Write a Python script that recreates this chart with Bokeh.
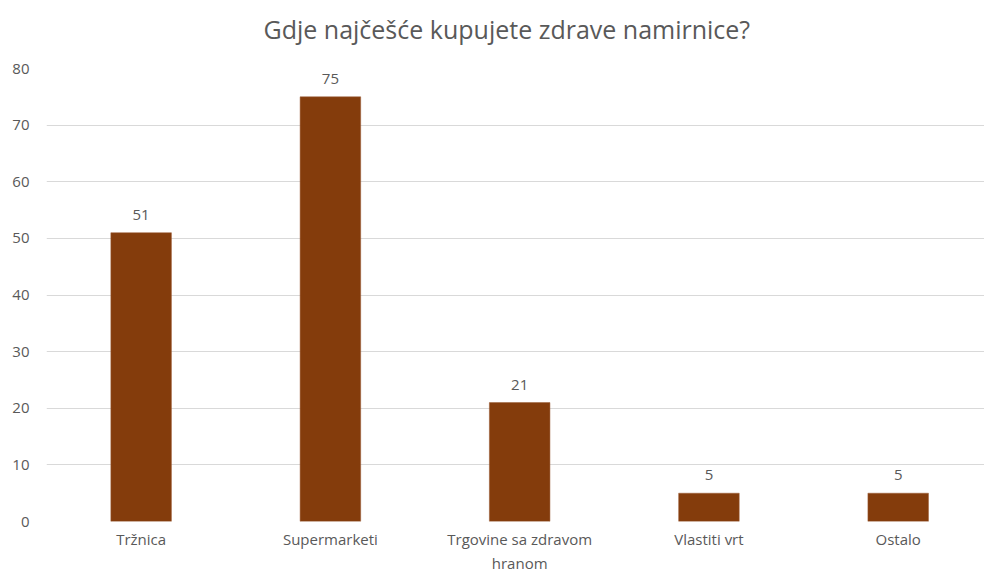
from bokeh.plotting import figure
from bokeh.models import Range1d, FixedTicker, ColumnDataSource, LabelSet, Title
from bokeh.core.properties import value
from bokeh.embed import file_html
from bokeh.resources import INLINE

categories = ["Tržnica", "Supermarketi", "Trgovine sa zdravom\nhranom", "Vlastiti vrt", "Ostalo"]
values = [51, 75, 21, 5, 5]
y_ticks = [0, 10, 20, 30, 40, 50, 60, 70, 80]
title_text = "Gdje najčešće kupujete zdrave namirnice?"

xs = list(range(len(categories)))
src = ColumnDataSource(dict(x=xs, top=values, label=[str(v) for v in values]))

p = figure(width=984, height=575, output_backend="svg", toolbar_location=None,
           x_range=Range1d(-0.5, 4.456), y_range=Range1d(0, 80),
           min_border_left=46, min_border_right=0, min_border_top=68, min_border_bottom=54)

p.title.text = title_text
p.title.align = "left"
p.title.offset = 217
p.title.text_font = "Open Sans"
p.title.text_font_size = "25px"
p.title.text_font_style = "normal"
p.title.text_color = "#595959"
# spacer placed between the title and the plot to lift the title
spacer = Title(text=" ", text_font_size="6px")
p.add_layout(spacer, "above")

p.vbar(x="x", top="top", width=0.32, bottom=0, source=src,
       fill_color="#843C0C", line_color="#9a5a34", line_width=0.5)

labels = LabelSet(x="x", y="top", text="label", source=src, y_offset=13,
                  text_align="center", text_baseline="bottom",
                  text_font=value("Open Sans"), text_font_size=value("15px"),
                  text_color="#595959")
p.add_layout(labels)

p.xaxis.ticker = FixedTicker(ticks=xs)
p.xaxis.major_label_overrides = {i: c for i, c in zip(xs, categories)}
p.yaxis.ticker = FixedTicker(ticks=y_ticks)

for ax in (p.xaxis[0], p.yaxis[0]):
    ax.axis_line_color = None
    ax.major_tick_line_color = None
    ax.minor_tick_line_color = None
    ax.major_tick_out = 0
    ax.major_tick_in = 0
    ax.major_label_text_font = "Open Sans"
    ax.major_label_text_color = "#595959"
p.yaxis.major_label_text_font_size = "15px"
p.xaxis.major_label_text_font_size = "15px"
p.yaxis.major_label_standoff = 17
p.xaxis.major_label_standoff = 7

p.xgrid.grid_line_color = None
p.ygrid.ticker = FixedTicker(ticks=y_ticks)
p.ygrid.grid_line_color = "#D9D9D9"
p.ygrid.grid_line_width = 1
p.outline_line_color = None
p.background_fill_color = "white"
p.border_fill_color = "white"

open("out.html", "w").write(file_html(p, INLINE))
